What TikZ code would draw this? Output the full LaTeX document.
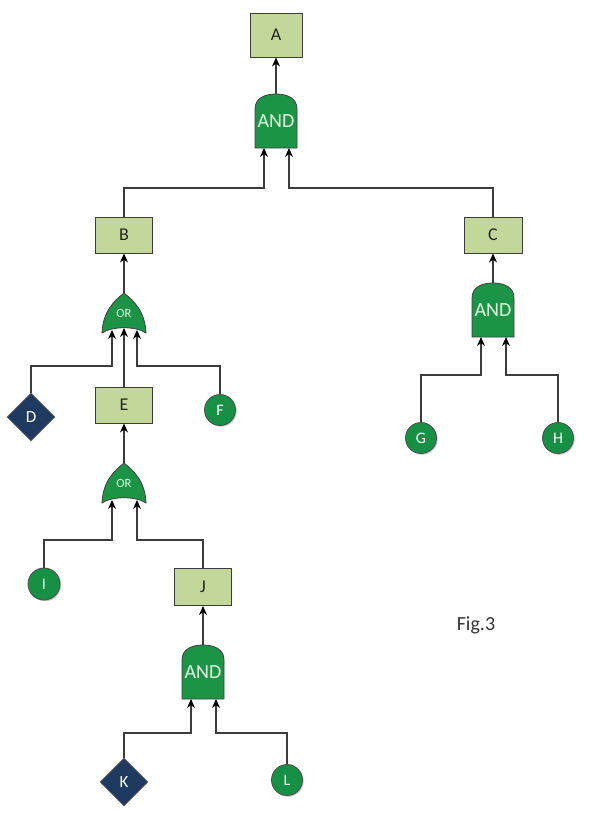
\documentclass[tikz,border=0pt]{standalone}
\usepackage{fontspec}
\setmainfont{Carlito}
\usepackage{tikz}
\usetikzlibrary{shapes.geometric,arrows.meta,calc,shadows}

\definecolor{eventfill}{RGB}{196,215,155}
\definecolor{gatefill}{RGB}{28,148,70}
\definecolor{basicfill}{RGB}{22,145,68}
\definecolor{extfill}{RGB}{31,58,96}
\definecolor{wirecol}{RGB}{60,60,60}

\tikzset{
  andgate/.pic={
    \draw[gatebody] (-21,27) -- (-21,-12) .. controls (-21,-23) and (-11,-27) .. (0,-27)
      .. controls (11,-27) and (21,-23) .. (21,-12) -- (21,27) -- cycle;
    \node[gatelabel, minimum width=42pt, minimum height=54pt] (-g) {AND};
    \coordinate (-in1) at (-12,27);
    \coordinate (-in2) at (13,27);
  },
  orgate/.pic={
    \draw[gatebody] (0,-20) .. controls (10,-12) and (21,-2) .. (22,20)
      .. controls (12,13) and (-12,13) .. (-22,20)
      .. controls (-21,-2) and (-10,-12) .. cycle;
    \node[gatelabel, font=\fontsize{12.5}{14}\selectfont, minimum width=44pt, minimum height=40pt] (-g) {OR};
    \coordinate (-in1) at (-12,17);
    \coordinate (-in2) at (0,15);
    \coordinate (-in3) at (13,17);
  }
}

\begin{document}
\begin{tikzpicture}[x=1pt, y=-1pt,
    event/.style={rectangle, draw=wirecol, line width=1pt, fill=eventfill, minimum width=57pt, minimum height=36pt, inner sep=0pt, text=black!85, font=\fontsize{18}{20}\selectfont},
    basic/.style={circle, draw=black!70, line width=0.8pt, fill=basicfill, minimum size=31pt, inner sep=0pt, text=white, font=\fontsize{16}{18}\selectfont,
      drop shadow={shadow xshift=1.2pt, shadow yshift=-1.2pt, opacity=0.45}},
    external/.style={diamond, draw=black!60, line width=0.6pt, fill=extfill, minimum width=48pt, minimum height=48pt, inner sep=0pt, text=white, font=\fontsize{17}{18}\selectfont},
    gatebody/.style={draw=black!75, line width=0.8pt, fill=gatefill},
    gatelabel/.style={inner sep=0pt, text=white!88!green, font=\fontsize{20}{22}\selectfont},
    figlabel/.style={inner sep=0pt, text=black!80, font=\fontsize{20}{24}\selectfont},
    arrow/.style={draw=wirecol, line width=1.1pt, -{Stealth[length=9pt, width=8pt, color=black]}}
]
\useasboundingbox (0,0) rectangle (602,814);

% top event
\node[event, minimum width=52pt, minimum height=44pt] (A) at (276,35) {A};
\pic (gA) at (276,121) {andgate};

% intermediate events
\node[event] (B) at (124,235) {B};
\node[event, minimum width=58pt] (C) at (493,235) {C};
\pic (gB) at (124,313) {orgate};
\pic (gC) at (493,310) {andgate};

\node[external] (D) at (31,417) {D};
\node[event] (E) at (124,405) {E};
\node[basic] (F) at (220,410) {F};
\node[basic] (G) at (421,438) {G};
\node[basic] (H) at (558,438) {H};

\pic (gE) at (124,483) {orgate};
\node[basic, minimum size=32pt] (I) at (44,584) {I};
\node[event, minimum height=37pt] (J) at (203,587) {J};
\pic (gJ) at (203,672) {andgate};

\node[external] (K) at (124,782) {K};
\node[basic] (L) at (287,780) {L};

\node[figlabel] (fig) at (476,625) {Fig.3};

% gate outputs
\draw[arrow] (gA-g.north) -- (A.south);
\draw[arrow] (gB-g.north) -- (B.south);
\draw[arrow] (gC-g.north) -- (C.south);
\draw[arrow] (gE-g.north) -- (E.south);
\draw[arrow] (gJ-g.north) -- (J.south);

% gate inputs
\draw[arrow] (B.north) |- ($(gA-in1)+(0,40)$) -- (gA-in1);
\draw[arrow] (C.north) |- ($(gA-in2)+(0,40)$) -- (gA-in2);
\draw[arrow] (D.north) |- ($(gB-in1)+(0,36)$) -- (gB-in1);
\draw[arrow] (E.north) -- (gB-in2);
\draw[arrow] (F.north) |- ($(gB-in3)+(0,36)$) -- (gB-in3);
\draw[arrow] (G.north) |- ($(gC-in1)+(0,38)$) -- (gC-in1);
\draw[arrow] (H.north) |- ($(gC-in2)+(0,38)$) -- (gC-in2);
\draw[arrow] (I.north) |- ($(gE-in1)+(0,40)$) -- (gE-in1);
\draw[arrow] (J.north) |- ($(gE-in3)+(0,40)$) -- (gE-in3);
\draw[arrow] (K.north) |- ($(gJ-in1)+(0,34)$) -- (gJ-in1);
\draw[arrow] (L.north) |- ($(gJ-in2)+(0,34)$) -- (gJ-in2);

\end{tikzpicture}
\end{document}
